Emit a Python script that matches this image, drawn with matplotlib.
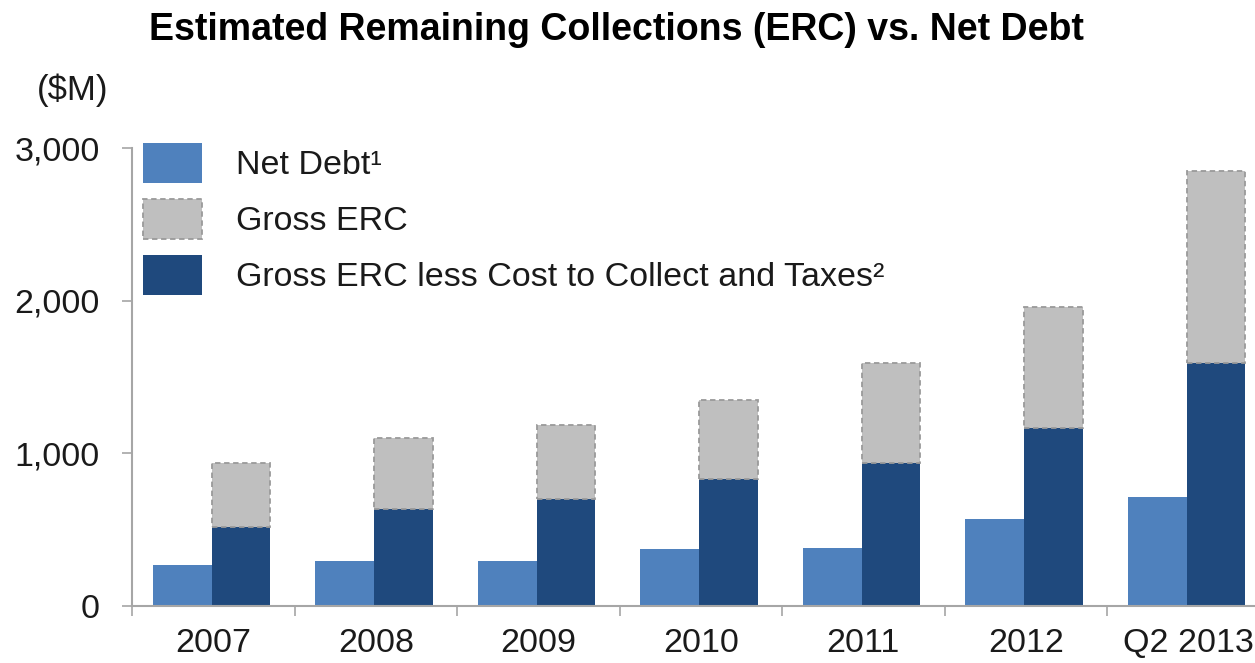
import matplotlib
matplotlib.use("Agg")
import matplotlib.pyplot as plt
import numpy as np
from matplotlib.patches import Patch

# values in $M
periods = ["2007", "2008", "2009", "2010", "2011", "2012", "Q2 2013"]
net_debt = [266, 292, 292, 369, 379, 566, 714]
erc_net = [517, 631, 697, 830, 937, 1167, 1589]
gross_erc = [933, 1097, 1184, 1348, 1589, 1961, 2853]
y_ticks = [0, 1000, 2000, 3000]

C_NET = "#4f81bd"
C_DARK = "#1f497d"
C_GRAY = "#bfbfbf"
C_AXIS = "#a6a6a6"
C_TEXT = "#1a1a1a"

plt.rcParams["font.family"] = ["Liberation Sans", "DejaVu Sans"]

W, H = 1255, 663
fig = plt.figure(figsize=(W / 100, H / 100), dpi=100)
ax = fig.add_axes([132 / W, 1 - 605.5 / H, 1137.5 / W, (605.5 - 148.3) / H])

x = np.arange(len(periods))
bw = 0.362
ax.bar(x - bw / 2 - 0.01, net_debt, width=bw, color=C_NET, linewidth=0)
ax.bar(x + bw / 2 - 0.01, erc_net, width=bw, color=C_DARK, linewidth=0)
gray_part = [g - d for g, d in zip(gross_erc, erc_net)]
ax.bar(x + bw / 2 - 0.01, gray_part, bottom=erc_net, width=bw, color=C_GRAY,
       edgecolor="#9a9a9a", linestyle=(0, (3, 2)), linewidth=1.3)

ax.set_xlim(-0.5, len(periods) - 0.5)
ax.set_ylim(0, 3000)

ax.set_yticks(y_ticks)
ax.set_yticklabels([f"{v:,}" for v in y_ticks])
ax.tick_params(axis="y", length=7, width=1.2, color=C_AXIS, pad=16,
               labelsize=24.5, labelcolor=C_TEXT)

ax.set_xticks(x)
ax.set_xticklabels(periods)
ax.set_xticks(np.arange(len(periods) + 1) - 0.5, minor=True)
ax.tick_params(axis="x", which="major", length=0, pad=16, labelsize=24.5,
               labelcolor=C_TEXT)
ax.tick_params(axis="x", which="minor", length=7, width=1.2, color=C_AXIS,
               direction="out")

for side in ("top", "right"):
    ax.spines[side].set_visible(False)
for side in ("left", "bottom"):
    ax.spines[side].set_color(C_AXIS)
    ax.spines[side].set_linewidth(1.5)

handles = [
    Patch(facecolor=C_NET, edgecolor="none"),
    Patch(facecolor=C_GRAY, edgecolor="#9a9a9a", linestyle=(0, (3, 2)), linewidth=1.3),
    Patch(facecolor=C_DARK, edgecolor="none"),
]
labels = ["Net Debt\u00b9", "Gross ERC", "Gross ERC less Cost to Collect and Taxes\u00b2"]
leg = fig.legend(handles, labels, loc="upper left", bbox_to_anchor=(143 / W, 1 - 143 / H),
                 frameon=False, fontsize=24.5, handlelength=1.74, handleheight=1.43,
                 handletextpad=1.0, labelspacing=0.47, borderpad=0, borderaxespad=0)
for t in leg.get_texts():
    t.set_color(C_TEXT)

fig.text(616 / W, 1 - 30 / H, "Estimated Remaining Collections (ERC) vs. Net Debt",
         ha="center", va="center", fontsize=27, fontweight="bold", color="black")
fig.text(73 / W, 1 - 90 / H, "($M)", ha="center", va="center", fontsize=25, color=C_TEXT)

fig.savefig("out.png", dpi=100)
